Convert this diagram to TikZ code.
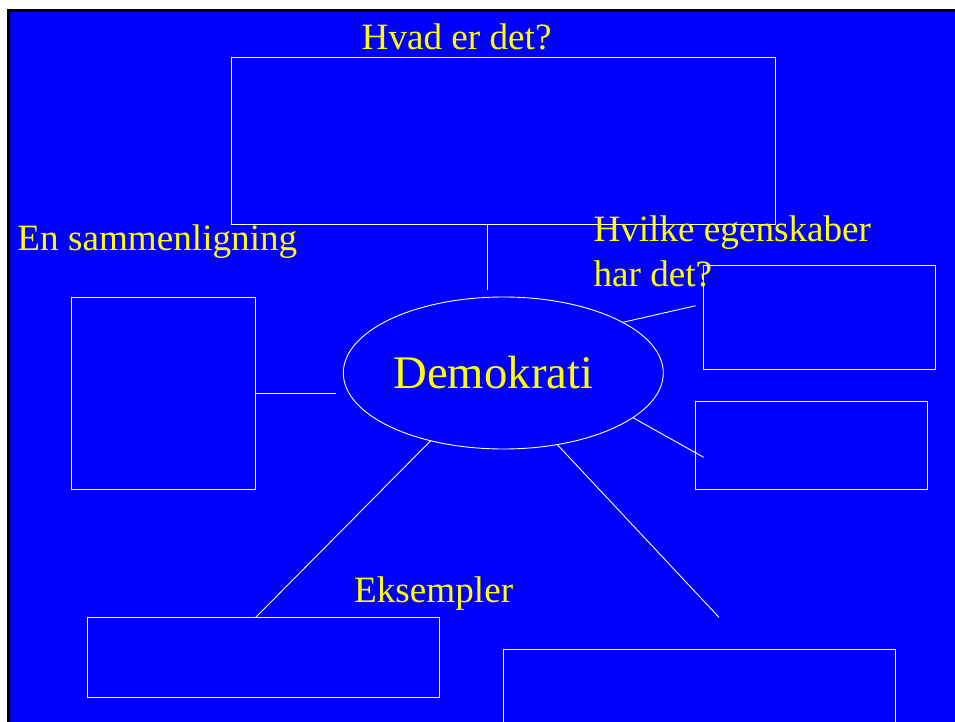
\documentclass[tikz,border=0pt]{standalone}
\usepackage{fontspec}
\setmainfont{Liberation Serif}
\usetikzlibrary{shapes.geometric}
\definecolor{slideblue}{RGB}{0,0,255}
\definecolor{slideyellow}{RGB}{255,255,0}
\tikzset{
  frame/.style={draw=white, line width=0.9bp, fill=none, inner sep=0pt, outer sep=0pt},
  conn/.style={draw=white, line width=0.9bp},
  lbl/.style={text=slideyellow, inner sep=0pt, anchor=base west, font=\fontsize{37.3}{45}\selectfont, align=left},
}
\begin{document}
\begin{tikzpicture}[x=1bp,y=-1bp]
\useasboundingbox (0,0) rectangle (955,722);
\fill[white] (-5,-5) rectangle (965,732);
\fill[slideblue] (10,12) rectangle (965,732);
\fill[black] (7,9) rectangle (965,12);
\fill[black] (7,9) rectangle (10,732);

% boxes
\node[frame, minimum width=544bp, minimum height=167bp] (top) at (503,140.5) {};
\node[frame, minimum width=184bp, minimum height=192bp] (left) at (163.5,393) {};
\node[frame, minimum width=232bp, minimum height=104bp] (rup) at (819.5,317.5) {};
\node[frame, minimum width=232bp, minimum height=88bp] (rlow) at (811.5,445.7) {};
\node[frame, minimum width=352bp, minimum height=80bp] (bl) at (263,657.5) {};
\node[frame, minimum width=392bp, minimum height=100bp] (br) at (699.3,699.7) {};

% ellipse
\node[frame, ellipse, minimum width=320bp, minimum height=152bp] (demo) at (503.3,373) {};
\node[lbl, font=\fontsize{46.9}{50}\selectfont] (demotext) at (393.3,388.5) {Demokrati};

% labels
\node[lbl] (hvad) at (361.5,50) {Hvad er det?};
\node[lbl] (samm) at (17.3,250) {En sammenligning};
\node[lbl] (egen1) at (593.3,241.7) {Hvilke egenskaber};
\node[lbl] (egen2) at (593.3,286.7) {har det?};
\node[lbl] (eks) at (354,602.3) {Eksempler};

% connector free ends
\coordinate (c1) at (487,290);
\coordinate (c2) at (336,393.3);
\coordinate (c3) at (695.7,305.7);
\coordinate (c4) at (703.7,457.3);
\coordinate (c5) at (255.8,617.3);
\coordinate (c6) at (719,617.3);

% connectors
\draw[conn] (top.south -| c1) -- (c1);
\draw[conn] (left.east |- c2) -- (c2);
\draw[conn] (demo.23) -- (c3);
\draw[conn] (demo.-19.4) -- (c4);
\draw[conn] (demo.223.2) -- (c5);
\draw[conn] (demo.-53.3) -- (c6);
\end{tikzpicture}
\end{document}
